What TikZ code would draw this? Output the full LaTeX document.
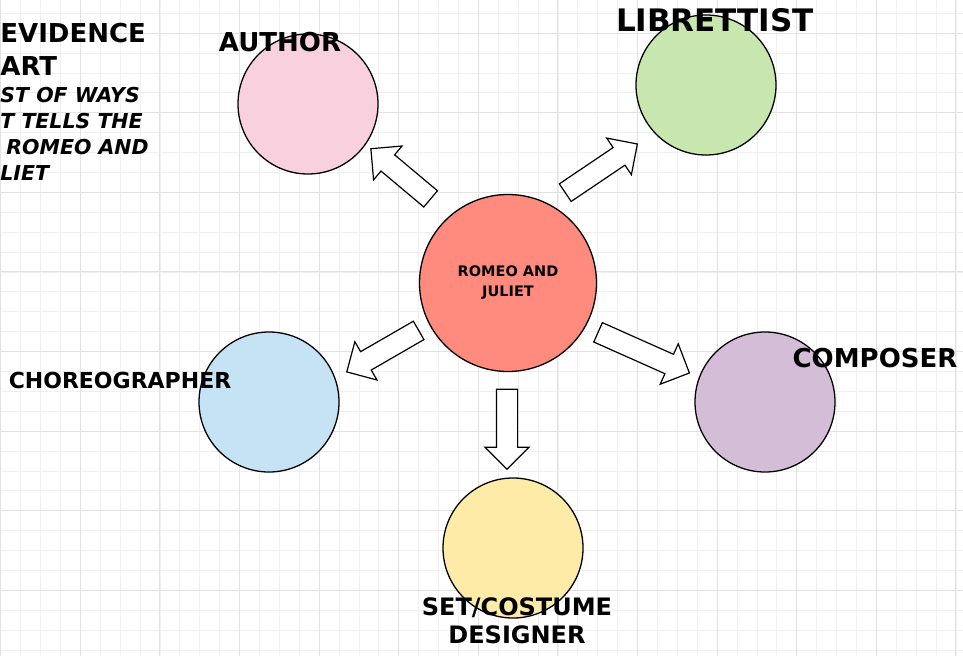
\documentclass[tikz,border=0pt]{standalone}
\usepackage{fontspec}
\setmainfont{DejaVu Sans}
\usetikzlibrary{shapes.arrows}

\definecolor{rjred}{HTML}{FF8B7E}
\definecolor{authorpink}{HTML}{F9D1DE}
\definecolor{librgreen}{HTML}{C8E7AE}
\definecolor{chorblue}{HTML}{C6E3F5}
\definecolor{comppurple}{HTML}{D4BED7}
\definecolor{setyellow}{HTML}{FEEBA8}
\definecolor{gridminor}{HTML}{F0F0F0}
\definecolor{gridmajor}{HTML}{E2E2E2}

\begin{document}
\begin{tikzpicture}[x=1pt, y=-1pt, thick,
  main/.style = {draw, circle, line width=1.3pt, minimum size=140pt, inner sep=0pt},
  lbl/.style = {font=\bfseries\fontsize{26}{28}\selectfont, inner sep=0pt},
  blockarrow/.style = {draw, single arrow, fill=white, line width=1.2pt, inner xsep=0pt, inner ysep=10pt, single arrow head extend=11.5pt}]
\useasboundingbox[fill=white] (0,0) rectangle (963,656);
% grid paper
\foreach \i in {0,...,48} \draw[gridminor, line width=0.8pt] (0.7+19.9*\i,0) -- (0.7+19.9*\i,656);
\foreach \i in {0,...,32} \draw[gridminor, line width=0.8pt] (0,13.2+19.9*\i) -- (963,13.2+19.9*\i);
\foreach \i in {0,...,12} \draw[gridmajor, line width=1pt] (0.7+79.6*\i,0) -- (0.7+79.6*\i,656);
\foreach \i in {0,...,8} \draw[gridmajor, line width=1pt] (0,33+79.6*\i) -- (963,33+79.6*\i);

% circles
\node[main, fill=rjred, minimum size=177pt, align=center, font=\bfseries\fontsize{14.5}{20}\selectfont] (rj) at (508,283) {ROMEO AND\\JULIET};
\node[main, fill=authorpink] (author) at (308,104) {};
\node[main, fill=librgreen] (librettist) at (706,85) {};
\node[main, fill=chorblue] (choreo) at (269,402) {};
\node[main, fill=comppurple] (composer) at (765,402) {};
\node[main, fill=setyellow] (setdesign) at (513,548) {};

% arrows
\node[blockarrow, minimum height=78pt, rotate=140] (toauthor) at (404.8,177.2) {};
\node[blockarrow, minimum height=87pt, rotate=34] (tolibrettist) at (596.9,171.3) {};
\node[blockarrow, minimum height=83pt, rotate=210] (tochoreo) at (387.3,348.5) {};
\node[blockarrow, minimum height=100pt, rotate=-24] (tocomposer) at (638.9,350.5) {};
\node[blockarrow, minimum height=80pt, rotate=-90] (toset) at (507,424) {};

% labels
\node[lbl] (authorlbl) at (280,42) {AUTHOR};
\node[lbl, font=\bfseries\fontsize{31}{33}\selectfont] (librlbl) at (715,20) {LIBRETTIST};
\node[lbl, font=\bfseries\fontsize{22}{24}\selectfont] (choreolbl) at (120,380) {CHOREOGRAPHER};
\node[lbl] (complbl) at (875,358) {COMPOSER};
\node[lbl, align=center, font=\bfseries\fontsize{24}{28}\selectfont] (setlbl) at (517,621) {SET/COSTUME\\DESIGNER};

% title text
\node[lbl, anchor=west, align=left, font=\bfseries\fontsize{26}{33}\selectfont] (title) at (0,49.5) {EVIDENCE\\ART};
\node[lbl, anchor=north west, align=left, font=\bfseries\itshape\fontsize{20.5}{26}\selectfont] (subtitle) at (0,87) {ST OF WAYS\\T TELLS THE\\\hspace*{6pt}ROMEO AND\\LIET};
\end{tikzpicture}
\end{document}
